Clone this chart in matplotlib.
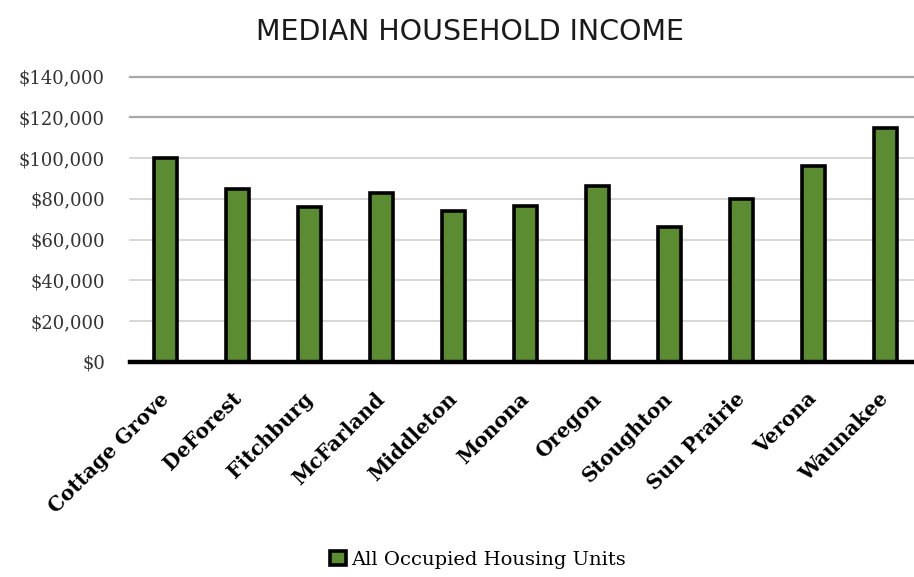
import matplotlib.pyplot as plt
import matplotlib.transforms as mtransforms
from matplotlib.ticker import FuncFormatter

cities = ["Cottage Grove", "DeForest", "Fitchburg", "McFarland", "Middleton", "Monona",
          "Oregon", "Stoughton", "Sun Prairie", "Verona", "Waunakee"]
income = [100200, 84600, 76200, 83000, 73800, 76700, 86200, 66000, 79700, 96100, 115000]
series_name = "All Occupied Housing Units"

fig = plt.figure(figsize=(9.14, 5.77), dpi=100)
ax = fig.add_axes([130 / 914, 215.3 / 577, 784 / 914, 285 / 577])

x = range(len(cities))
ax.bar(x, income, width=0.32, color="#5b8c32", edgecolor="black", linewidth=2.6,
       label=series_name, zorder=3)

ax.set_xlim(-0.5, 10.4)
ax.set_ylim(0, 140000)
ax.set_yticks(range(0, 140001, 20000))
ax.yaxis.set_major_formatter(FuncFormatter(lambda v, p: f"${v:,.0f}"))

# light horizontal gridlines, the upper two a bit darker
for v in range(20000, 140001, 20000):
    col = "#a8a8a8" if v >= 120000 else "#cfcfcf"
    ax.axhline(v, color=col, linewidth=1.6 if v >= 120000 else 1.2, zorder=1, clip_on=False)
ax.axhline(0, color="black", linewidth=3.2, zorder=4, clip_on=False)

for s in ax.spines.values():
    s.set_visible(False)
ax.tick_params(axis="both", length=0)
ax.tick_params(axis="y", pad=18, labelsize=13, labelcolor="#333333")
for t in ax.get_yticklabels():
    t.set_family("DejaVu Serif")

ax.set_xticks(list(x))
ax.set_xticklabels(cities, rotation=45, ha="right", rotation_mode="anchor",
                   family="DejaVu Serif", fontweight="bold", fontsize=14.5)
ax.tick_params(axis="x", pad=10)
# nudge the slanted labels down and left so they end under each bar
shift = mtransforms.ScaledTranslation(-0.07, -0.13, fig.dpi_scale_trans)
for t in ax.get_xticklabels():
    t.set_transform(t.get_transform() + shift)

fig.text(0.514, 0.945, "MEDIAN HOUSEHOLD INCOME", ha="center", va="center",
         fontsize=20.5, family="DejaVu Sans", color="#1a1a1a")

fig.legend(loc="center", bbox_to_anchor=(0.523, 0.03), frameon=False,
           prop={"family": "DejaVu Serif", "size": 14}, handlelength=0.8,
           handleheight=0.8, handletextpad=0.3, borderaxespad=0)

fig.savefig("out.png", dpi=100)
